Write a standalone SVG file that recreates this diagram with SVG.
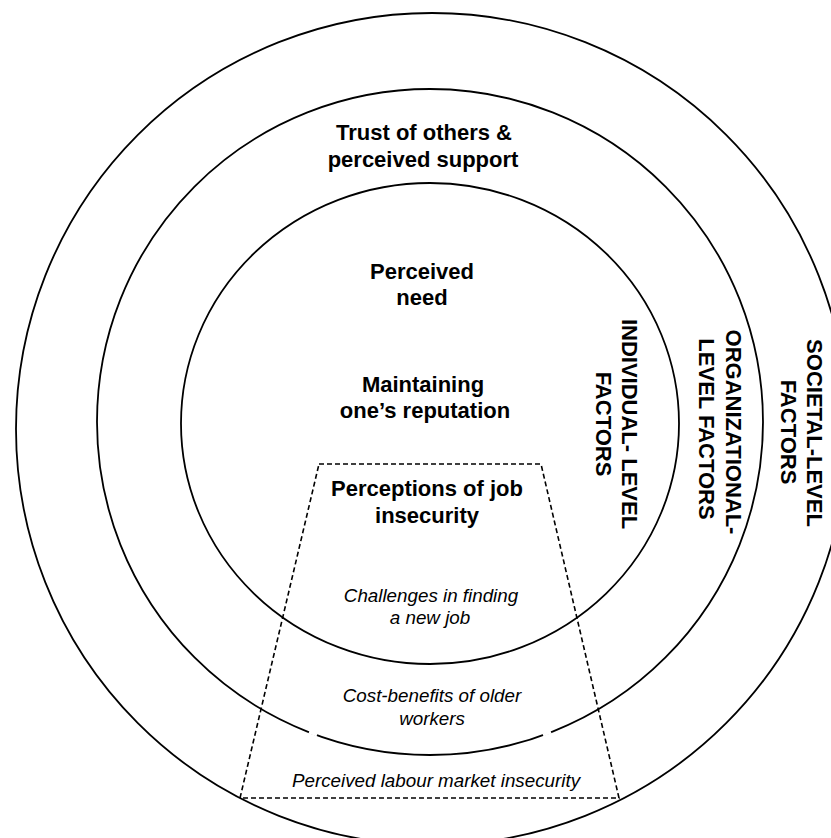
<svg xmlns="http://www.w3.org/2000/svg" width="831" height="838" viewBox="0 0 831 838">
<style>
.ring{fill:none;stroke:#000;stroke-width:1.8}
.dash{fill:none;stroke:#000;stroke-width:1.6;stroke-dasharray:5 3}
.b{font-family:"Liberation Sans",Arial,sans-serif;font-weight:bold;font-size:22px;fill:#000;text-anchor:middle}
.i{font-family:"Liberation Sans",Arial,sans-serif;font-style:italic;font-size:18.8px;fill:#000;text-anchor:middle}
</style>
<rect width="831" height="838" fill="#fff"/>
<g id="societal">
<circle class="ring" cx="432" cy="429" r="416"/>
<text class="b" transform="translate(807,433) rotate(90)">SOCIETAL-LEVEL</text>
<text class="b" transform="translate(781,432) rotate(90)">FACTORS</text>
</g>
<g id="organizational">
<circle class="ring" cx="430" cy="422" r="333"/>
<line x1="309" y1="732" x2="317" y2="735" stroke="#fff" stroke-width="3"/>
<line x1="543" y1="735" x2="551" y2="732" stroke="#fff" stroke-width="3"/>
<text class="b" x="424" y="140">Trust of others &amp;</text>
<text class="b" x="423" y="167">perceived support</text>
<text class="b" transform="translate(726,432) rotate(90)">ORGANIZATIONAL-</text>
<text class="b" transform="translate(699,429) rotate(90)">LEVEL FACTORS</text>
</g>
<g id="individual">
<ellipse class="ring" cx="430" cy="423.5" rx="249" ry="240.5"/>
<text class="b" x="422" y="279">Perceived</text>
<text class="b" x="422" y="305">need</text>
<text class="b" x="423" y="392">Maintaining</text>
<text class="b" x="425" y="418">one’s reputation</text>
<text class="b" transform="translate(622,424) rotate(90)">INDIVIDUAL- LEVEL</text>
<text class="b" transform="translate(596,424) rotate(90)">FACTORS</text>
</g>
<g id="job-insecurity">
<path class="dash" d="M319,464 L541,464 L619,798 L240,798 Z"/>
<text class="b" x="427" y="496">Perceptions of job</text>
<text class="b" x="427" y="523">insecurity</text>
<text class="i" x="431" y="602">Challenges in finding</text>
<text class="i" x="430" y="624">a new job</text>
<text class="i" x="432" y="702">Cost-benefits of older</text>
<text class="i" x="432" y="725">workers</text>
<text class="i" x="436" y="787">Perceived labour market insecurity</text>
</g>
</svg>
